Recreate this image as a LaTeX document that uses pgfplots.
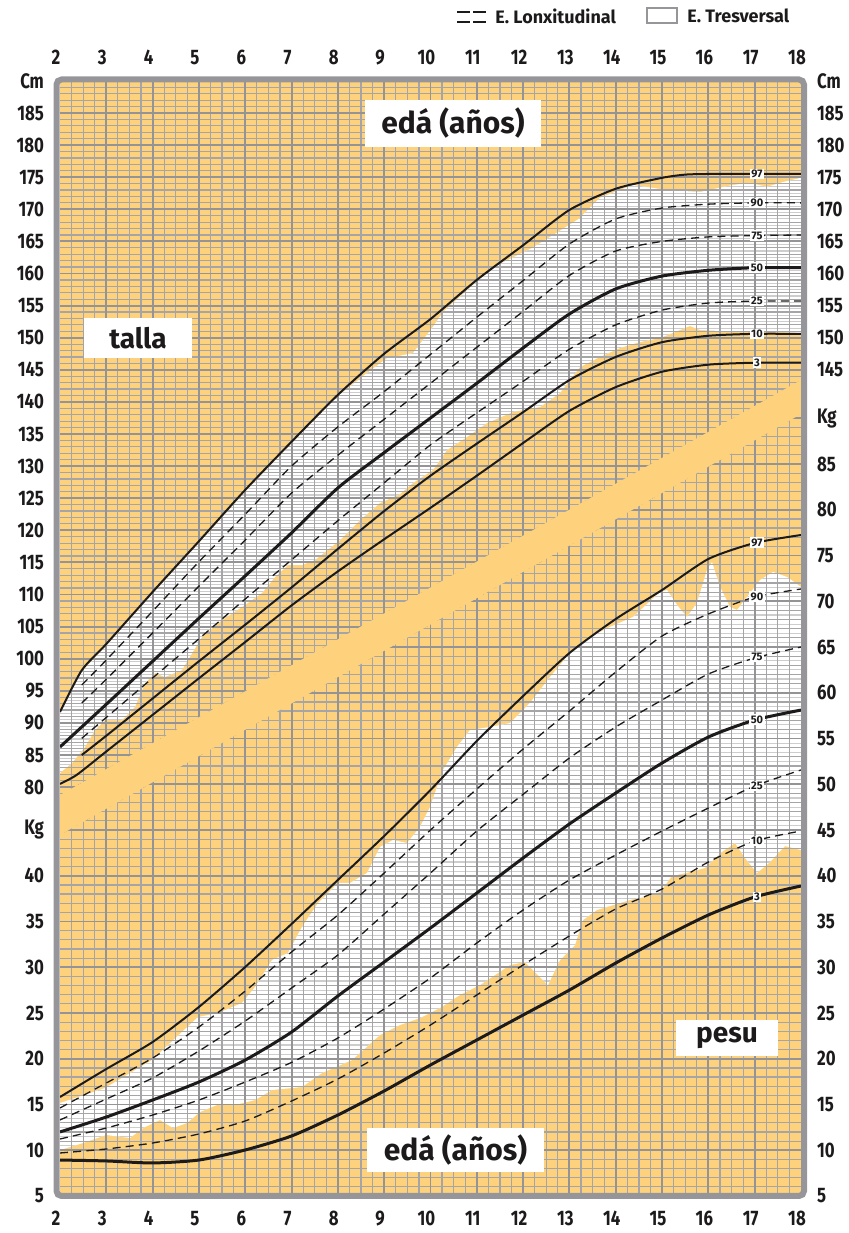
\documentclass[border=0pt]{standalone}
\usepackage{pgfplots}
\pgfplotsset{compat=1.18}
\usepackage{fontspec}
\setmainfont{Fira Sans}
\newfontfamily\condfont{Fira Sans}[FakeStretch=0.8]
\definecolor{orng}{RGB}{254,210,124}
\definecolor{gmaj}{RGB}{148,148,150}
\definecolor{gmin}{RGB}{165,165,167}
\definecolor{ghalf}{RGB}{205,205,205}
\definecolor{ink}{RGB}{28,26,26}
\definecolor{frm}{RGB}{150,150,154}
\tikzset{plab/.style={fill=white, inner sep=0.7pt, text=ink, font=\bfseries\fontsize{5.5}{6}\selectfont}}
\pgfplotsset{
  base/.style={
    scale only axis, width=370.5pt, height=557.55pt,
    at={(30pt,18.5pt)}, anchor=south west,
    xmin=2, xmax=18,
    axis line style={draw=none},
    major tick length=0pt, minor tick length=0pt,
    tick style={draw=none},
    /pgf/number format/assume math mode=true,
    ticklabel style={font=\condfont\bfseries\fontsize{10.5}{12}\selectfont, text=ink},
  },
  pct/.style={line width=1pt, ink, smooth, tension=0.4},
  pctthick/.style={line width=1.5pt, ink, smooth, tension=0.4},
  pctdash/.style={line width=0.65pt, ink, dash pattern=on 4pt off 2.6pt, smooth, tension=0.4},
}
\begin{document}
\begin{tikzpicture}
\path[use as bounding box] (0,0) rectangle (424pt,616.5pt);
% ================= WEIGHT AXIS =================
\begin{axis}[base, ymin=5, ymax=126.87,
  xtick={2,...,18}, xticklabel pos=left, xticklabel style={yshift=-4pt, xshift=-2pt},
  ytick={5,10,...,45}, yticklabels={5,10,15,20,25,30,35,40,Kg},
  yticklabel pos=left, yticklabel style={anchor=east, xshift=-4.5pt}]
\fill[orng] (2,5) rectangle (18,126.87);
% transversal range (white)
\addplot[fill=white, draw=none] coordinates {(2,15.16) (2.972,16.80) (3.987,19.86) (4.980,24.56) (5.412,25.0) (5.930,26.09) (6.211,27.84) (6.578,30.79) (6.923,31.56) (7.225,34.40) (7.571,37.02) (8.003,39.21) (8.262,39.21) (8.629,40.30) (8.910,43.14) (9.190,43.91) (9.493,43.58) (9.773,45.33) (9.989,47.51) (10.270,51.56) (10.572,54.07) (10.853,55.93) (11.285,56.26) (11.717,56.69) (12.148,58.88) (12.580,61.72) (13.012,64.34) (13.444,66.09) (13.876,67.19) (14.372,68.28) (14.956,71.01) (15.107,71.23) (15.322,69.6) (15.538,68.28) (15.754,69.81) (15.970,73.42) (16.078,74.29) (16.251,71.56) (16.467,69.37) (16.618,69.04) (16.834,70.46) (17.115,72.32) (17.396,73.20) (17.698,72.65) (18,71.56)
(18,42.81) (17.654,43.25) (17.331,41.50) (17.050,40.30) (16.791,41.94) (16.575,43.58) (16.294,42.60) (15.927,40.85) (15.603,40.41) (15.215,39.97) (14.956,38.22) (14.632,37.68) (14.308,37.35) (13.595,36.26) (13.293,35.16) (13.120,32.43) (12.796,30.79) (12.537,28.06) (12.321,29.15) (12.041,30.57) (11.717,30.25) (11.393,29.15) (11.069,28.06) (10.637,26.97) (10.205,25.55) (9.773,24.45) (9.341,23.69) (8.910,22.60) (8.305,19.86) (7.657,18.44) (7.225,16.91) (6.578,16.58) (6.211,15.49) (5.779,14.95) (5.390,14.95) (5.023,14.18) (4.742,12.98) (4.440,12.43) (4.159,13.31) (3.792,12.43) (3.511,11.34) (2.994,11.67) (2.497,10.79) (2,10.03)} -- cycle;
\begin{scope}
\clip (2,15.16) -- (2.972,16.80) -- (3.987,19.86) -- (4.980,24.56) -- (5.412,25.0) -- (5.930,26.09) -- (6.211,27.84) -- (6.578,30.79) -- (6.923,31.56) -- (7.225,34.40) -- (7.571,37.02) -- (8.003,39.21) -- (8.262,39.21) -- (8.629,40.30) -- (8.910,43.14) -- (9.190,43.91) -- (9.493,43.58) -- (9.773,45.33) -- (9.989,47.51) -- (10.270,51.56) -- (10.572,54.07) -- (10.853,55.93) -- (11.285,56.26) -- (11.717,56.69) -- (12.148,58.88) -- (12.580,61.72) -- (13.012,64.34) -- (13.444,66.09) -- (13.876,67.19) -- (14.372,68.28) -- (14.956,71.01) -- (15.107,71.23) -- (15.322,69.6) -- (15.538,68.28) -- (15.754,69.81) -- (15.970,73.42) -- (16.078,74.29) -- (16.251,71.56) -- (16.467,69.37) -- (16.618,69.04) -- (16.834,70.46) -- (17.115,72.32) -- (17.396,73.20) -- (17.698,72.65) -- (18,71.56) -- (18,42.81) -- (17.654,43.25) -- (17.331,41.50) -- (17.050,40.30) -- (16.791,41.94) -- (16.575,43.58) -- (16.294,42.60) -- (15.927,40.85) -- (15.603,40.41) -- (15.215,39.97) -- (14.956,38.22) -- (14.632,37.68) -- (14.308,37.35) -- (13.595,36.26) -- (13.293,35.16) -- (13.120,32.43) -- (12.796,30.79) -- (12.537,28.06) -- (12.321,29.15) -- (12.041,30.57) -- (11.717,30.25) -- (11.393,29.15) -- (11.069,28.06) -- (10.637,26.97) -- (10.205,25.55) -- (9.773,24.45) -- (9.341,23.69) -- (8.910,22.60) -- (8.305,19.86) -- (7.657,18.44) -- (7.225,16.91) -- (6.578,16.58) -- (6.211,15.49) -- (5.779,14.95) -- (5.390,14.95) -- (5.023,14.18) -- (4.742,12.98) -- (4.440,12.43) -- (4.159,13.31) -- (3.792,12.43) -- (3.511,11.34) -- (2.994,11.67) -- (2.497,10.79) -- (2,10.03) -- cycle;
\pgfplotsinvokeforeach{5.5,6.5,...,80.5}{\draw[ghalf, line width=0.55pt] (2,#1) -- (18,#1);}
\end{scope}
% weight grid (below the band)
\begin{scope}
\clip (2,5) -- (18,5) -- (18,94.18) -- (2,48.83) -- cycle;
\pgfplotsinvokeforeach{2.25,2.5,...,17.8}{\draw[gmin, line width=0.6pt] (#1,5) -- (#1,96);}
\pgfplotsinvokeforeach{6,...,95}{\draw[gmin, line width=0.6pt] (2,#1) -- (18,#1);}
\pgfplotsinvokeforeach{3,...,17}{\draw[gmaj, line width=0.95pt] (#1,5) -- (#1,96);}
\pgfplotsinvokeforeach{10,15,...,95}{\draw[gmaj, line width=0.95pt] (2,#1) -- (18,#1);}
\end{scope}
% weight percentiles
\addplot[pct] coordinates {(2,15.82) (3,18.88) (4,21.83) (5,25.66) (6,30.03) (7,34.73) (8,39.54) (9,44.34) (10,49.37) (11,54.73) (12,59.64) (13,64.34) (14,68.06) (15,71.23) (16,74.62) (17,76.37) (18,77.24)};
\addplot[pctdash] coordinates {(2,14.62) (3,17.35) (4,20.08) (5,23.47) (6,27.40) (7,31.67) (8,35.71) (9,40.30) (10,45.0) (11,49.48) (12,53.85) (13,58.0) (14,62.27) (15,66.2) (16,68.61) (17,70.46) (18,71.34)};
\addplot[pctdash] coordinates {(2,13.31) (3,15.60) (4,17.90) (5,20.85) (6,24.13) (7,27.73) (8,31.34) (9,35.82) (10,40.30) (11,44.89) (12,48.9) (13,52.87) (14,56.26) (15,59.21) (16,62.05) (17,63.80) (18,65.0)};
\addplot[pctthick] coordinates {(2,12.0) (3,13.63) (4,15.49) (5,17.46) (6,19.86) (7,22.92) (8,26.86) (9,30.57) (10,34.29) (11,38.11) (12,41.94) (13,45.66) (14,49.04) (15,52.32) (16,55.16) (17,57.02) (18,58.11)};
\addplot[pctdash] coordinates {(2,11.23) (3,12.43) (4,13.85) (5,15.49) (6,17.46) (7,19.6) (8,22.27) (9,25.44) (10,28.83) (11,32.65) (12,36.26) (13,39.54) (14,42.27) (15,44.89) (16,47.40) (17,49.81) (18,51.56)};
\addplot[pctdash] coordinates {(2,9.70) (3,10.14) (4,10.79) (5,11.78) (6,13.20) (7,15.38) (8,17.79) (9,20.63) (10,23.69) (11,26.97) (12,30.25) (13,33.42) (14,36.37) (15,38.55) (16,41.50) (17,43.80) (18,44.89)};
\addplot[pctthick] coordinates {(2,8.93) (3,8.83) (4,8.61) (5,8.93) (6,10.03) (7,11.56) (8,13.85) (9,16.48) (10,19.32) (11,22.05) (12,24.78) (13,27.51) (14,30.46) (15,33.20) (16,35.71) (17,37.68) (18,38.88)};
\node[plab] at (17.05,76.4) {97};
\node[plab] at (17.05,70.5) {90};
\node[plab] at (17.05,63.9) {75};
\node[plab] at (17.05,57.05) {50};
\node[plab] at (17.05,49.8) {25};
\node[plab] at (17.05,43.8) {10};
\node[plab] at (17.05,37.7) {3};
\end{axis}
% ================= HEIGHT AXIS =================
\begin{axis}[base, ymin=16.31, ymax=190,
  xtick={2,...,18}, xticklabel pos=right, xticklabel style={yshift=4.5pt, xshift=-2pt},
  ytick={80,85,...,190}, yticklabels={80,85,90,95,100,105,110,115,120,125,130,135,140,145,150,155,160,165,170,175,180,185,Cm},
  yticklabel pos=left, yticklabel style={anchor=east, xshift=-4.5pt}]
\addplot[fill=white, draw=none] coordinates {(2,91.5) (2.47,98.0) (3,102.0) (4,110.1) (5,118.0) (6,126.0) (7,133.5) (8,140.9) (8.629,144.5) (9.061,146.8) (9.622,147.6) (10.054,151.7) (10.27,154.0) (11.069,159.2) (11.5,161.5) (12.2,164.0) (12.65,166.0) (13.2,168.5) (13.66,171.8) (14.372,173.8) (15.107,173.0) (15.819,172.7) (16.532,173.8) (16.899,174.1) (17.266,173.5) (17.611,174.25) (18,174.9)
(18,150.73) (17.115,151.04) (16.251,151.04) (15.819,151.2) (15.603,151.82) (15.387,151.2) (14.956,149.95) (14.524,149.33) (14.092,148.4) (13.66,147.0) (13.228,145.44) (12.796,141.39) (12.364,139.2) (11.781,138.43) (11.22,136.71) (10.788,134.53) (10.356,132.51) (10.054,129.39) (9.622,127.37) (9.341,125.65) (8.91,124.25) (8.478,121.6) (8.046,118.49) (7.506,115.37) (7.225,114.6) (6.923,114.6) (6.642,112.73) (6.362,110.23) (5.930,108.05) (5.498,106.03) (5.066,103.38) (4.764,99.8) (4.634,98.24) (4.267,97.15) (4.051,97.77) (3.835,96.21) (3.619,92.48) (3.339,90.45) (2.972,90.45) (2.756,88.89) (2.540,86.25) (2.259,83.75) (2,82.2)} -- cycle;
\begin{scope}
\clip (2,91.5) -- (2.47,98.0) -- (3,102.0) -- (4,110.1) -- (5,118.0) -- (6,126.0) -- (7,133.5) -- (8,140.9) -- (8.629,144.5) -- (9.061,146.8) -- (9.622,147.6) -- (10.054,151.7) -- (10.27,154.0) -- (11.069,159.2) -- (11.5,161.5) -- (12.2,164.0) -- (12.65,166.0) -- (13.2,168.5) -- (13.66,171.8) -- (14.372,173.8) -- (15.107,173.0) -- (15.819,172.7) -- (16.532,173.8) -- (16.899,174.1) -- (17.266,173.5) -- (17.611,174.25) -- (18,174.9) -- (18,150.73) -- (17.115,151.04) -- (16.251,151.04) -- (15.819,151.2) -- (15.603,151.82) -- (15.387,151.2) -- (14.956,149.95) -- (14.524,149.33) -- (14.092,148.4) -- (13.66,147.0) -- (13.228,145.44) -- (12.796,141.39) -- (12.364,139.2) -- (11.781,138.43) -- (11.22,136.71) -- (10.788,134.53) -- (10.356,132.51) -- (10.054,129.39) -- (9.622,127.37) -- (9.341,125.65) -- (8.91,124.25) -- (8.478,121.6) -- (8.046,118.49) -- (7.506,115.37) -- (7.225,114.6) -- (6.923,114.6) -- (6.642,112.73) -- (6.362,110.23) -- (5.930,108.05) -- (5.498,106.03) -- (5.066,103.38) -- (4.764,99.8) -- (4.634,98.24) -- (4.267,97.15) -- (4.051,97.77) -- (3.835,96.21) -- (3.619,92.48) -- (3.339,90.45) -- (2.972,90.45) -- (2.756,88.89) -- (2.540,86.25) -- (2.259,83.75) -- (2,82.2) -- cycle;
\pgfplotsinvokeforeach{80.5,81.5,...,179.5}{\draw[ghalf, line width=0.55pt] (2,#1) -- (18,#1);}
\end{scope}
% height grid (above the band)
\begin{scope}
\clip (2,72.54) -- (18,138.11) -- (18,191) -- (2,191) -- cycle;
\pgfplotsinvokeforeach{2.25,2.5,...,17.8}{\draw[gmin, line width=0.6pt] (#1,70) -- (#1,191);}
\pgfplotsinvokeforeach{71,...,190}{\draw[gmin, line width=0.6pt] (2,#1) -- (18,#1);}
\pgfplotsinvokeforeach{3,...,17}{\draw[gmaj, line width=0.95pt] (#1,70) -- (#1,191);}
\pgfplotsinvokeforeach{70,75,...,190}{\draw[gmaj, line width=0.95pt] (2,#1) -- (18,#1);}
\end{scope}
% diagonal band
\addplot[fill=orng, draw=none] coordinates {(2,78.77) (18,143.41) (18,138.11) (2,72.54)} -- cycle;
% height percentiles
\addplot[pct] coordinates {(2,91.7) (2.47,98.2) (3,102.3) (4,110.4) (5,118.3) (6,126.3) (7,133.8) (8,141.1) (9,147.5) (10,152.9) (11,159.0) (12,164.4) (13,169.9) (14,173.2) (15,174.9) (15.5,175.4) (16,175.5) (17,175.5) (18,175.5)};
\addplot[pctdash] coordinates {(2.47,95.9) (3,99.8) (4,107.4) (5,115.1) (6,122.5) (7,130.0) (8,136.1) (9,141.6) (10,147.4) (11,153.2) (12,158.9) (13,164.6) (14,168.5) (15,170.2) (16,170.8) (17,171.0) (18,171.0)};
\addplot[pctdash] coordinates {(2.47,93.1) (3,96.8) (4,104.0) (5,111.3) (6,118.5) (7,125.8) (8,131.7) (9,137.3) (10,142.9) (11,148.5) (12,154.1) (13,159.7) (14,163.5) (15,165.0) (16,165.7) (17,165.9) (18,166.0)};
\addplot[pctthick] coordinates {(2,86.25) (3,92.9) (4,99.6) (5,106.3) (6,112.9) (7,119.6) (8,126.6) (9,132.1) (10,137.5) (11,142.9) (12,148.4) (13,153.7) (14,157.6) (15,159.6) (16,160.5) (17,160.9) (18,160.9)};
\addplot[pctdash] coordinates {(2.47,87.6) (3,90.85) (4,97.0) (5,103.1) (6,109.3) (7,115.4) (8,121.5) (9,127.4) (10,133.3) (11,138.3) (12,143.2) (13,148.2) (14,152.0) (15,154.3) (16,155.4) (17,155.7) (18,155.7)};
\addplot[pct] coordinates {(2.47,85.0) (3,88.0) (4,93.8) (5,99.6) (6,105.3) (7,111.1) (8,117.1) (9,123.0) (10,128.5) (11,133.5) (12,138.4) (13,143.4) (14,147.0) (15,149.3) (16,150.3) (17,150.6) (18,150.6)};
\addplot[pct] coordinates {(2,80.5) (2.36,81.9) (3,85.55) (4,91.25) (5,96.95) (6,102.6) (7,108.3) (8,113.6) (9,118.6) (10,123.5) (11,128.5) (12,133.6) (13,138.6) (14,142.3) (15,144.7) (16,145.8) (17,146.1) (18,146.1)};
\node[plab] at (17.05,175.5) {97};
\node[plab] at (17.05,171.0) {90};
\node[plab] at (17.05,165.9) {75};
\node[plab] at (17.05,160.9) {50};
\node[plab] at (17.05,155.7) {25};
\node[plab] at (17.05,150.6) {10};
\node[plab] at (17.05,146.1) {3};
\end{axis}
% ================= RIGHT-SIDE SCALES =================
\begin{axis}[base, ymin=5, ymax=126.87, xtick=\empty,
  ytick={5,10,...,90}, yticklabels={5,10,15,20,25,30,35,40,45,50,55,60,65,70,75,80,85,Kg},
  yticklabel pos=right, yticklabel style={anchor=west, xshift=4.5pt}]
\end{axis}
\begin{axis}[base, ymin=16.31, ymax=190, xtick=\empty,
  ytick={145,150,...,190}, yticklabels={145,150,155,160,165,170,175,180,185,Cm},
  yticklabel pos=right, yticklabel style={anchor=west, xshift=4.5pt}]
\end{axis}
% frame
\draw[frm, line width=3pt, rounded corners=2.5pt] (28.25pt,18.5pt) rectangle (402pt,576.75pt);
% label boxes
\node[fill=white, minimum width=88pt, minimum height=23.5pt, text=ink, font=\bfseries\fontsize{15}{17}\selectfont] at (226.5pt,554.75pt) {edá (años)};
\node[fill=white, minimum width=88.5pt, minimum height=22pt, text=ink, font=\bfseries\fontsize{15}{17}\selectfont] at (227.75pt,41.5pt) {edá (años)};
\node[fill=white, minimum width=54pt, minimum height=20pt, text=ink, font=\bfseries\fontsize{14}{16}\selectfont] at (69pt,447.5pt) {talla};
\node[fill=white, minimum width=51pt, minimum height=18pt, text=ink, font=\bfseries\fontsize{14}{16}\selectfont] at (363.5pt,97.5pt) {pesu};
% legend
\draw[ink, line width=0.8pt, dash pattern=on 6.5pt off 1.5pt] (228.5pt,610.5pt) -- (244.5pt,610.5pt);
\draw[ink, line width=0.8pt, dash pattern=on 6.5pt off 1.5pt] (228.5pt,605.5pt) -- (244.5pt,605.5pt);
\node[anchor=west, inner sep=0pt, text=ink, font=\bfseries\fontsize{9}{10}\selectfont] at (247.5pt,608.5pt) {E. Lonxitudinal};
\draw[frm, fill=white, line width=0.6pt] (323.5pt,605pt) rectangle (338.5pt,612.5pt);
\node[anchor=west, inner sep=0pt, text=ink, font=\bfseries\fontsize{9}{10}\selectfont] at (343.5pt,608.5pt) {E. Tresversal};
\end{tikzpicture}
\end{document}
